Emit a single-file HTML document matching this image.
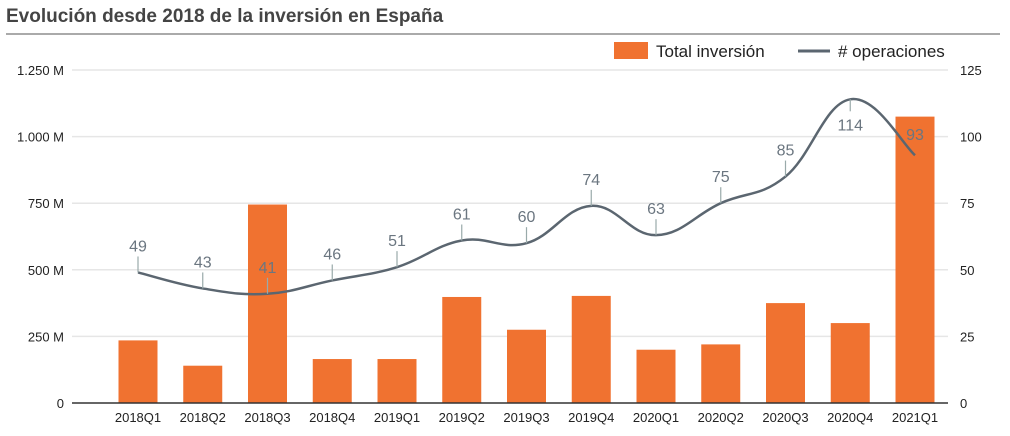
<!DOCTYPE html>
<html><head><meta charset="utf-8"><style>
body{margin:0;background:#fff;width:1010px;height:431px;overflow:hidden;font-family:"Liberation Sans",sans-serif}
</style></head><body>
<svg id="c" width="1010" height="431" xmlns="http://www.w3.org/2000/svg">
<text x="6" y="22" font-size="19" font-weight="bold" fill="#444">Evolución desde 2018 de la inversión en España</text>
<line x1="6" y1="34" x2="1000" y2="34" stroke="#aaa" stroke-width="2"/>
<g>
<rect x="614" y="42" width="34" height="17" fill="#f07230"/>
<text x="656" y="57" font-size="17" fill="#222">Total inversión</text>
<line x1="798" y1="51" x2="830" y2="51" stroke="#5b6670" stroke-width="3"/>
<text x="838" y="57" font-size="17" fill="#222"># operaciones</text>
</g>
<g id="grid"></g><g id="bars"></g><g id="line"></g><g id="axes"></g>
</svg>
<script>
const categories=["2018Q1","2018Q2","2018Q3","2018Q4","2019Q1","2019Q2","2019Q3","2019Q4","2020Q1","2020Q2","2020Q3","2020Q4","2021Q1"];
const investment=[235,140,745,165,165,398,275,402,200,220,375,300,1075];
const operations=[49,43,41,46,51,61,60,74,63,75,85,114,93];
const leftTicks=[0,250,500,750,1000,1250];
const leftTickLabels=["0","250 M","500 M","750 M","1.000 M","1.250 M"];
const rightTicks=[0,25,50,75,100,125];
const NS="http://www.w3.org/2000/svg";
const y0=403,yTop=70,xL=72,xR=948,c0=138,step=64.75,bw=39;
const yL=v=>y0-(v/1250)*(y0-yTop);
const yR=v=>y0-(v/125)*(y0-yTop);
const xC=i=>c0+i*step;
function mk(t,a,p){const e=document.createElementNS(NS,t);for(const k in a)e.setAttribute(k,a[k]);p.appendChild(e);return e;}
const grid=document.getElementById('grid'),bars=document.getElementById('bars'),line=document.getElementById('line'),axes=document.getElementById('axes');
leftTicks.forEach((v,i)=>{
 if(i>0){const g=mk('line',{x1:xL,x2:xR,y1:yL(v),y2:yL(v),stroke:'#e6e6e6','stroke-width':1.5},grid);
 
 }
 const t=mk('text',{x:64,y:yL(v)+5,'text-anchor':'end','font-size':13,fill:'#222'},axes);t.textContent=leftTickLabels[i];
 
 
});
rightTicks.forEach(v=>{
 const t=mk('text',{x:960,y:yR(v)+5,'font-size':13,fill:'#222'},axes);t.textContent=v;
 
 
});
investment.forEach((v,i)=>{
 const r=mk('rect',{x:xC(i)-bw/2,y:yL(v),width:bw,height:y0-yL(v),fill:'#f07230'},bars);
 
 
 const t=mk('text',{x:xC(i),y:422,'text-anchor':'middle','font-size':13,fill:'#222'},axes);t.textContent=categories[i];
 
 
});
const base=mk('line',{x1:xL,x2:xR,y1:y0,y2:y0,stroke:'#333','stroke-width':1.5},axes);


const pts=operations.map((v,i)=>[xC(i),yR(v)]);
let d='M'+pts[0][0]+','+pts[0][1];
for(let i=0;i<pts.length-1;i++){
 const p0=pts[Math.max(0,i-1)],p1=pts[i],p2=pts[i+1],p3=pts[Math.min(pts.length-1,i+2)];
 const t=0.2;
 d+=` C${p1[0]+(p2[0]-p0[0])*t},${p1[1]+(p2[1]-p0[1])*t} ${p2[0]-(p3[0]-p1[0])*t},${p2[1]-(p3[1]-p1[1])*t} ${p2[0]},${p2[1]}`;
}
const path=mk('path',{d:d,fill:'none',stroke:'#5b6670','stroke-width':2.5},line);


operations.forEach((v,i)=>{
 const x=xC(i),y=yR(v);
 const up=i===11||i===12?-1:1;
 let ty=y-30;
 if(i===11)ty=y+28; if(i===12)ty=y-10;
 if(i!==12){const tk=mk('line',{x1:x,x2:x,y1:y,y2:i===11?y+12:y-16,stroke:'#9aa','stroke-width':1.2},line);
 
 }
 const t=mk('text',{x:x,y:i===11?y+31:(i===12?y-15:y-21),'text-anchor':'middle','font-size':16,fill:'#6b7680'},line);
 t.textContent=v;
 
 
});
</script>
</body></html>
